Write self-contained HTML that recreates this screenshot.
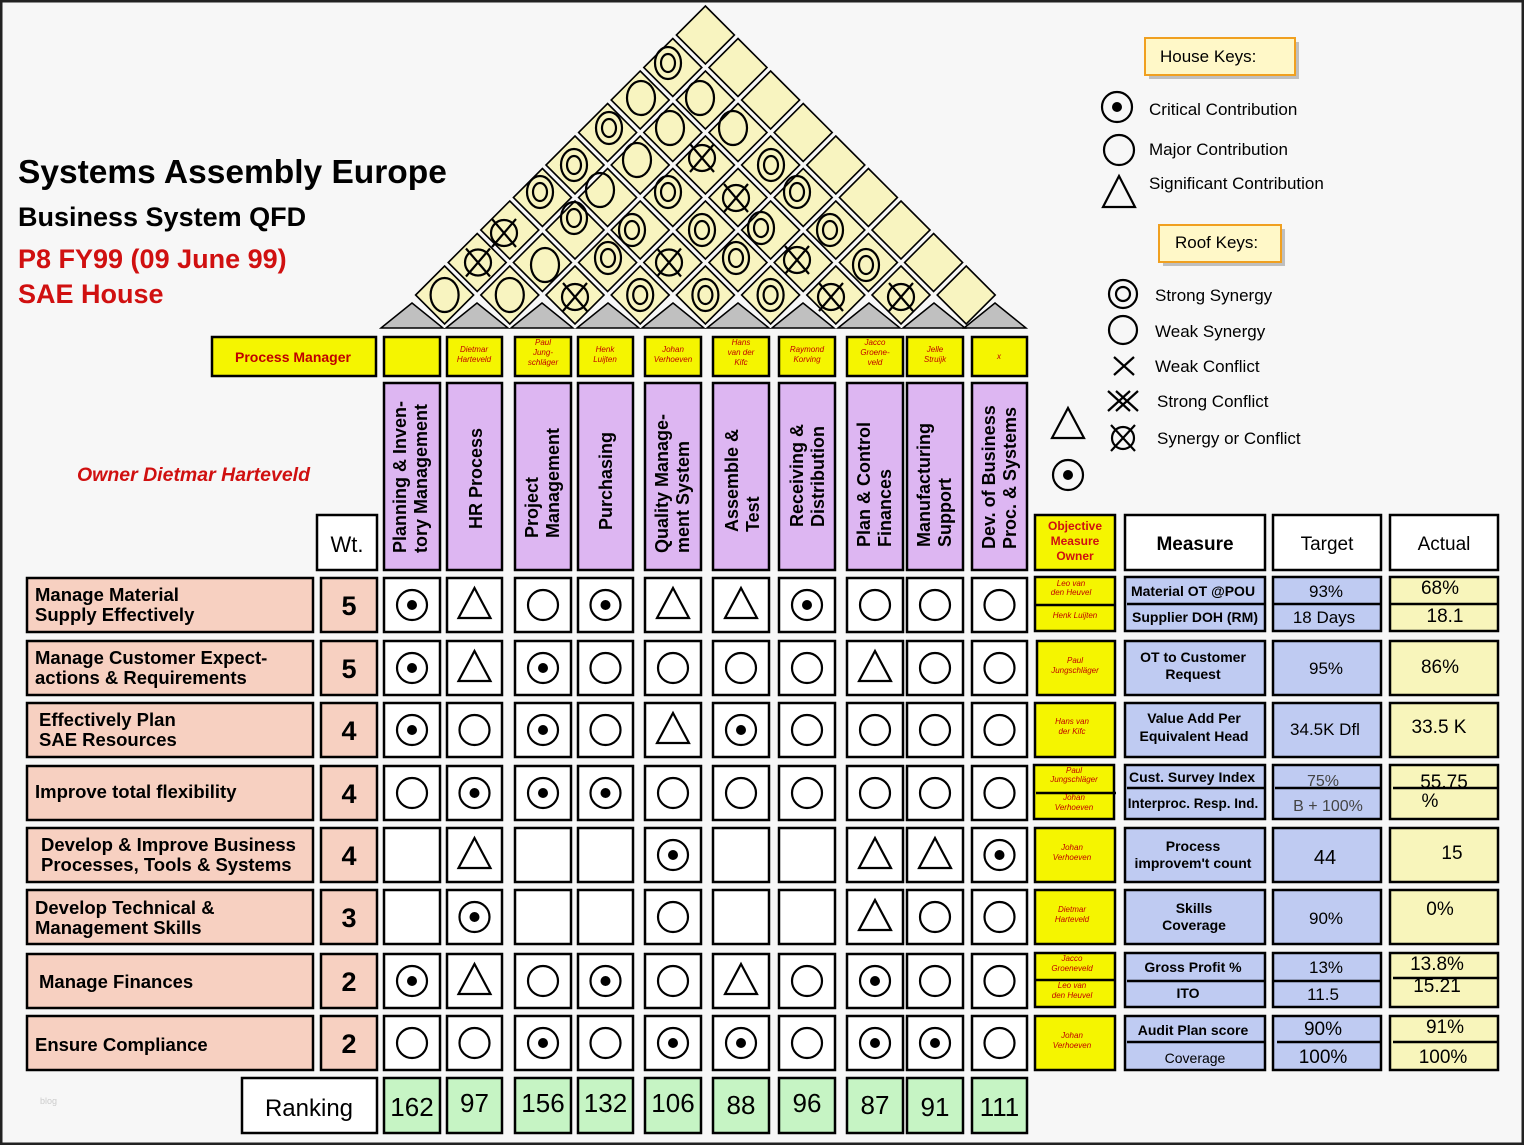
<!DOCTYPE html>
<html><head><meta charset="utf-8"><style>
html,body{margin:0;padding:0;background:#f7f7f7}
svg{display:block;font-family:"Liberation Sans",sans-serif}
.b{stroke:#000;stroke-width:2.5}
.w{fill:#fff}.y{fill:#f5f500}.p{fill:#ddb6f2}.s{fill:#f7d0c1}.g{fill:#c6f4c4}.m{fill:#bfcbf2}.a{fill:#f8f5bb}
.sy{fill:none;stroke:#000;stroke-width:2.2}
.n{font-size:8px;font-style:italic;fill:#c00000;text-anchor:middle}
.h{font-size:18px;font-weight:bold}
.rl{font-size:18.5px;font-weight:bold}
.wt{font-size:27px;font-weight:bold;text-anchor:middle}
.rk{font-size:26px;text-anchor:middle}
.me{font-size:14px;font-weight:bold;text-anchor:middle}
.tg{font-size:17px;text-anchor:middle}
.ac{font-size:19px;text-anchor:middle}
.k{font-size:17px}
</style></head><body>
<svg width="1524" height="1145" viewBox="0 0 1524 1145" xmlns="http://www.w3.org/2000/svg">
<defs>
<g id="dot"><circle r="15" class="sy"/><circle r="5" fill="#000"/></g>
<circle id="cir" r="15" class="sy"/>
<path id="tri" d="M0,-17 L16,13 L-16,13Z" class="sy"/>
<g id="rr" class="sy"><ellipse rx="13" ry="16"/><ellipse rx="7" ry="9"/></g>
<ellipse id="ro" rx="14" ry="17" class="sy"/>
<g id="rx" class="sy"><circle r="13"/><path d="M-12,-14 L12,14 M12,-14 L-12,14"/></g>
<path id="dia" d="M0,-29 L29,0 L0,29 L-29,0Z" fill="#f8f4c0" stroke="#000" stroke-width="1.6"/>
<path id="gt" d="M-31,25 L0,0 L31,25Z" fill="#c0c0c0" stroke="#000" stroke-width="1.5"/>
</defs>
<rect x="0" y="0" width="1524" height="1145" fill="#f7f7f7"/>
<rect x="1" y="1" width="1522" height="1143" fill="none" stroke="#222" stroke-width="3"/>

<text x="18" y="183" font-size="33.5" font-weight="bold">Systems Assembly Europe</text>
<text x="18" y="226" font-size="27" font-weight="bold">Business System QFD</text>
<text x="18" y="268" font-size="27" font-weight="bold" fill="#d01010">P8 FY99 (09 June 99)</text>
<text x="18" y="303" font-size="27" font-weight="bold" fill="#d01010">SAE House</text>
<text x="77" y="481" font-size="19.5" font-weight="bold" font-style="italic" fill="#d01010">Owner Dietmar Harteveld</text>

<g>
<use href="#dia" x="444.6" y="295"/><use href="#dia" x="509.8" y="295"/><use href="#dia" x="575" y="295"/><use href="#dia" x="640.2" y="295"/><use href="#dia" x="705.4" y="295"/><use href="#dia" x="770.6" y="295"/><use href="#dia" x="835.8" y="295"/><use href="#dia" x="901" y="295"/><use href="#dia" x="966.2" y="295"/>
<use href="#dia" x="477.2" y="262.5"/><use href="#dia" x="542.4" y="262.5"/><use href="#dia" x="607.6" y="262.5"/><use href="#dia" x="672.8" y="262.5"/><use href="#dia" x="738" y="262.5"/><use href="#dia" x="803.2" y="262.5"/><use href="#dia" x="868.4" y="262.5"/><use href="#dia" x="933.6" y="262.5"/>
<use href="#dia" x="509.8" y="230"/><use href="#dia" x="575" y="230"/><use href="#dia" x="640.2" y="230"/><use href="#dia" x="705.4" y="230"/><use href="#dia" x="770.6" y="230"/><use href="#dia" x="835.8" y="230"/><use href="#dia" x="901" y="230"/>
<use href="#dia" x="542.4" y="197.5"/><use href="#dia" x="607.6" y="197.5"/><use href="#dia" x="672.8" y="197.5"/><use href="#dia" x="738" y="197.5"/><use href="#dia" x="803.2" y="197.5"/><use href="#dia" x="868.4" y="197.5"/>
<use href="#dia" x="575" y="165"/><use href="#dia" x="640.2" y="165"/><use href="#dia" x="705.4" y="165"/><use href="#dia" x="770.6" y="165"/><use href="#dia" x="835.8" y="165"/>
<use href="#dia" x="607.6" y="132.5"/><use href="#dia" x="672.8" y="132.5"/><use href="#dia" x="738" y="132.5"/><use href="#dia" x="803.2" y="132.5"/>
<use href="#dia" x="640.2" y="100"/><use href="#dia" x="705.4" y="100"/><use href="#dia" x="770.6" y="100"/>
<use href="#dia" x="672.8" y="67.5"/><use href="#dia" x="738" y="67.5"/>
<use href="#dia" x="705.4" y="35"/>
</g>
<g>
<use href="#ro" x="444.6" y="295"/><use href="#ro" x="509.8" y="295"/><use href="#rx" x="575" y="297"/><use href="#rr" x="640.2" y="295"/><use href="#rr" x="705.4" y="295"/><use href="#rr" x="770.6" y="295"/><use href="#rx" x="831" y="297"/><use href="#rx" x="901" y="297"/>
<use href="#rx" x="478" y="262.5"/><use href="#ro" x="545" y="265"/><use href="#rr" x="608" y="258"/><use href="#rx" x="669" y="262.5"/><use href="#rr" x="736" y="258"/><use href="#rx" x="797" y="260"/><use href="#rr" x="866" y="265"/>
<use href="#rx" x="504" y="233"/><use href="#rr" x="574" y="218"/><use href="#rr" x="632" y="230"/><use href="#rr" x="702" y="230"/><use href="#rr" x="761" y="228"/><use href="#rr" x="830" y="230"/>
<use href="#rr" x="540" y="192"/><use href="#ro" x="600" y="190"/><use href="#rr" x="668" y="192"/><use href="#rx" x="736" y="198"/><use href="#rr" x="797" y="192"/>
<use href="#rr" x="574" y="165"/><use href="#ro" x="637" y="160"/><use href="#rx" x="702" y="158"/><use href="#rr" x="771" y="165"/>
<use href="#rr" x="609" y="128"/><use href="#ro" x="670" y="128"/><use href="#ro" x="733" y="128"/>
<use href="#ro" x="641" y="98"/><use href="#ro" x="700" y="98"/>
<use href="#rr" x="668" y="63"/>
</g>
<g>
<use href="#gt" x="412" y="303"/><use href="#gt" x="477" y="303"/><use href="#gt" x="542" y="303"/><use href="#gt" x="608" y="303"/><use href="#gt" x="673" y="303"/><use href="#gt" x="738" y="303"/><use href="#gt" x="803" y="303"/><use href="#gt" x="869" y="303"/><use href="#gt" x="934" y="303"/><use href="#gt" x="995" y="303"/>
</g>

<rect x="212" y="337" width="164" height="39" class="y b"/>
<text x="293" y="362" font-size="14" font-weight="bold" fill="#c00000" text-anchor="middle">Process Manager</text>
<g class="y b">
<rect x="384" y="337" width="56" height="39"/><rect x="447" y="337" width="55" height="39"/><rect x="515" y="337" width="56" height="39"/><rect x="578" y="337" width="55" height="39"/><rect x="645" y="337" width="56" height="39"/><rect x="713" y="337" width="56" height="39"/><rect x="779" y="337" width="56" height="39"/><rect x="847" y="337" width="56" height="39"/><rect x="907" y="337" width="56" height="39"/><rect x="972" y="337" width="55" height="39"/>
</g>
<g class="n">
<text x="474" y="352">Dietmar</text><text x="474" y="362">Harteveld</text>
<text x="543" y="345">Paul</text><text x="543" y="355">Jung-</text><text x="543" y="365">schläger</text>
<text x="605" y="352">Henk</text><text x="605" y="362">Luijten</text>
<text x="673" y="352">Johan</text><text x="673" y="362">Verhoeven</text>
<text x="741" y="345">Hans</text><text x="741" y="355">van der</text><text x="741" y="365">Kifc</text>
<text x="807" y="352">Raymond</text><text x="807" y="362">Korving</text>
<text x="875" y="345">Jacco</text><text x="875" y="355">Groene-</text><text x="875" y="365">veld</text>
<text x="935" y="352">Jelle</text><text x="935" y="362">Struijk</text>
<text x="999" y="359">x</text>
</g>

<g class="p b">
<rect x="384" y="383" width="56" height="187"/><rect x="447" y="383" width="55" height="187"/><rect x="515" y="383" width="56" height="187"/><rect x="578" y="383" width="55" height="187"/><rect x="645" y="383" width="56" height="187"/><rect x="713" y="383" width="56" height="187"/><rect x="779" y="383" width="56" height="187"/><rect x="847" y="383" width="56" height="187"/><rect x="907" y="383" width="56" height="187"/><rect x="972" y="383" width="55" height="187"/>
</g>
<g class="h">
<text transform="translate(406,553) rotate(-90)">Planning &amp; Inven-</text><text transform="translate(427,553) rotate(-90)">tory Management</text>
<text transform="translate(482,529) rotate(-90)">HR Process</text>
<text transform="translate(538,538) rotate(-90)">Project</text><text transform="translate(559,538) rotate(-90)">Management</text>
<text transform="translate(612,530) rotate(-90)">Purchasing</text>
<text transform="translate(668,553) rotate(-90)">Quality Manage-</text><text transform="translate(689,553) rotate(-90)">ment System</text>
<text transform="translate(738,532) rotate(-90)">Assemble &amp;</text><text transform="translate(759,532) rotate(-90)">Test</text>
<text transform="translate(803,527) rotate(-90)">Receiving &amp;</text><text transform="translate(824,527) rotate(-90)">Distribution</text>
<text transform="translate(870,547) rotate(-90)">Plan &amp; Control</text><text transform="translate(891,547) rotate(-90)">Finances</text>
<text transform="translate(930,547) rotate(-90)">Manufacturing</text><text transform="translate(951,547) rotate(-90)">Support</text>
<text transform="translate(995,549) rotate(-90)">Dev. of Business</text><text transform="translate(1016,549) rotate(-90)">Proc. &amp; Systems</text>
</g>

<rect x="317" y="515" width="60" height="55" class="w b"/>
<text x="347" y="552" font-size="22" text-anchor="middle">Wt.</text>

<rect x="1035" y="515" width="80" height="55" class="y b"/>
<g font-size="12" font-weight="bold" fill="#d01010" text-anchor="middle"><text x="1075" y="530">Objective</text><text x="1075" y="545">Measure</text><text x="1075" y="560">Owner</text></g>
<rect x="1125" y="515" width="140" height="55" class="w b"/><text x="1195" y="550" font-size="19" font-weight="bold" text-anchor="middle">Measure</text>
<rect x="1273" y="515" width="108" height="55" class="w b"/><text x="1327" y="550" font-size="19" text-anchor="middle">Target</text>
<rect x="1390" y="515" width="108" height="55" class="w b"/><text x="1444" y="550" font-size="19" text-anchor="middle">Actual</text>

<g class="s b">
<rect x="27" y="578" width="286" height="54"/><rect x="27" y="641" width="286" height="54"/><rect x="27" y="703" width="286" height="54"/><rect x="27" y="766" width="286" height="54"/><rect x="27" y="828" width="286" height="54"/><rect x="27" y="890" width="286" height="54"/><rect x="27" y="954" width="286" height="54"/><rect x="27" y="1016" width="286" height="54"/>
<rect x="321" y="578" width="56" height="54"/><rect x="321" y="641" width="56" height="54"/><rect x="321" y="703" width="56" height="54"/><rect x="321" y="766" width="56" height="54"/><rect x="321" y="828" width="56" height="54"/><rect x="321" y="890" width="56" height="54"/><rect x="321" y="954" width="56" height="54"/><rect x="321" y="1016" width="56" height="54"/>
</g>
<g class="rl">
<text x="35" y="601">Manage Material</text><text x="35" y="621">Supply Effectively</text>
<text x="35" y="664">Manage Customer Expect-</text><text x="35" y="684">actions &amp; Requirements</text>
<text x="39" y="726">Effectively Plan</text><text x="39" y="746">SAE Resources</text>
<text x="35" y="798">Improve total flexibility</text>
<text x="41" y="851">Develop &amp; Improve Business</text><text x="41" y="871">Processes, Tools &amp; Systems</text>
<text x="35" y="914">Develop Technical &amp;</text><text x="35" y="934">Management Skills</text>
<text x="39" y="988">Manage Finances</text>
<text x="35" y="1051">Ensure Compliance</text>
</g>
<g class="wt">
<text x="349" y="615">5</text><text x="349" y="678">5</text><text x="349" y="740">4</text><text x="349" y="803">4</text><text x="349" y="865">4</text><text x="349" y="927">3</text><text x="349" y="991">2</text><text x="349" y="1053">2</text>
</g>

<g class="w b">
<rect x="384" y="578" width="56" height="54"/><rect x="447" y="578" width="55" height="54"/><rect x="515" y="578" width="56" height="54"/><rect x="578" y="578" width="55" height="54"/><rect x="645" y="578" width="56" height="54"/><rect x="713" y="578" width="56" height="54"/><rect x="779" y="578" width="56" height="54"/><rect x="847" y="578" width="56" height="54"/><rect x="907" y="578" width="56" height="54"/><rect x="972" y="578" width="55" height="54"/>
<rect x="384" y="641" width="56" height="54"/><rect x="447" y="641" width="55" height="54"/><rect x="515" y="641" width="56" height="54"/><rect x="578" y="641" width="55" height="54"/><rect x="645" y="641" width="56" height="54"/><rect x="713" y="641" width="56" height="54"/><rect x="779" y="641" width="56" height="54"/><rect x="847" y="641" width="56" height="54"/><rect x="907" y="641" width="56" height="54"/><rect x="972" y="641" width="55" height="54"/>
<rect x="384" y="703" width="56" height="54"/><rect x="447" y="703" width="55" height="54"/><rect x="515" y="703" width="56" height="54"/><rect x="578" y="703" width="55" height="54"/><rect x="645" y="703" width="56" height="54"/><rect x="713" y="703" width="56" height="54"/><rect x="779" y="703" width="56" height="54"/><rect x="847" y="703" width="56" height="54"/><rect x="907" y="703" width="56" height="54"/><rect x="972" y="703" width="55" height="54"/>
<rect x="384" y="766" width="56" height="54"/><rect x="447" y="766" width="55" height="54"/><rect x="515" y="766" width="56" height="54"/><rect x="578" y="766" width="55" height="54"/><rect x="645" y="766" width="56" height="54"/><rect x="713" y="766" width="56" height="54"/><rect x="779" y="766" width="56" height="54"/><rect x="847" y="766" width="56" height="54"/><rect x="907" y="766" width="56" height="54"/><rect x="972" y="766" width="55" height="54"/>
<rect x="384" y="828" width="56" height="54"/><rect x="447" y="828" width="55" height="54"/><rect x="515" y="828" width="56" height="54"/><rect x="578" y="828" width="55" height="54"/><rect x="645" y="828" width="56" height="54"/><rect x="713" y="828" width="56" height="54"/><rect x="779" y="828" width="56" height="54"/><rect x="847" y="828" width="56" height="54"/><rect x="907" y="828" width="56" height="54"/><rect x="972" y="828" width="55" height="54"/>
<rect x="384" y="890" width="56" height="54"/><rect x="447" y="890" width="55" height="54"/><rect x="515" y="890" width="56" height="54"/><rect x="578" y="890" width="55" height="54"/><rect x="645" y="890" width="56" height="54"/><rect x="713" y="890" width="56" height="54"/><rect x="779" y="890" width="56" height="54"/><rect x="847" y="890" width="56" height="54"/><rect x="907" y="890" width="56" height="54"/><rect x="972" y="890" width="55" height="54"/>
<rect x="384" y="954" width="56" height="54"/><rect x="447" y="954" width="55" height="54"/><rect x="515" y="954" width="56" height="54"/><rect x="578" y="954" width="55" height="54"/><rect x="645" y="954" width="56" height="54"/><rect x="713" y="954" width="56" height="54"/><rect x="779" y="954" width="56" height="54"/><rect x="847" y="954" width="56" height="54"/><rect x="907" y="954" width="56" height="54"/><rect x="972" y="954" width="55" height="54"/>
<rect x="384" y="1016" width="56" height="54"/><rect x="447" y="1016" width="55" height="54"/><rect x="515" y="1016" width="56" height="54"/><rect x="578" y="1016" width="55" height="54"/><rect x="645" y="1016" width="56" height="54"/><rect x="713" y="1016" width="56" height="54"/><rect x="779" y="1016" width="56" height="54"/><rect x="847" y="1016" width="56" height="54"/><rect x="907" y="1016" width="56" height="54"/><rect x="972" y="1016" width="55" height="54"/>
</g>
<g>
<use href="#dot" x="412" y="605"/><use href="#tri" x="474.5" y="605"/><use href="#cir" x="543" y="605"/><use href="#dot" x="605.5" y="605"/><use href="#tri" x="673" y="605"/><use href="#tri" x="741" y="605"/><use href="#dot" x="807" y="605"/><use href="#cir" x="875" y="605"/><use href="#cir" x="935" y="605"/><use href="#cir" x="999.5" y="605"/>
<use href="#dot" x="412" y="668"/><use href="#tri" x="474.5" y="668"/><use href="#dot" x="543" y="668"/><use href="#cir" x="605.5" y="668"/><use href="#cir" x="673" y="668"/><use href="#cir" x="741" y="668"/><use href="#cir" x="807" y="668"/><use href="#tri" x="875" y="668"/><use href="#cir" x="935" y="668"/><use href="#cir" x="999.5" y="668"/>
<use href="#dot" x="412" y="730"/><use href="#cir" x="474.5" y="730"/><use href="#dot" x="543" y="730"/><use href="#cir" x="605.5" y="730"/><use href="#tri" x="673" y="730"/><use href="#dot" x="741" y="730"/><use href="#cir" x="807" y="730"/><use href="#cir" x="875" y="730"/><use href="#cir" x="935" y="730"/><use href="#cir" x="999.5" y="730"/>
<use href="#cir" x="412" y="793"/><use href="#dot" x="474.5" y="793"/><use href="#dot" x="543" y="793"/><use href="#dot" x="605.5" y="793"/><use href="#cir" x="673" y="793"/><use href="#cir" x="741" y="793"/><use href="#cir" x="807" y="793"/><use href="#cir" x="875" y="793"/><use href="#cir" x="935" y="793"/><use href="#cir" x="999.5" y="793"/>
<use href="#tri" x="474.5" y="855"/><use href="#dot" x="673" y="855"/><use href="#tri" x="875" y="855"/><use href="#tri" x="935" y="855"/><use href="#dot" x="999.5" y="855"/>
<use href="#dot" x="474.5" y="917"/><use href="#cir" x="673" y="917"/><use href="#tri" x="875" y="917"/><use href="#cir" x="935" y="917"/><use href="#cir" x="999.5" y="917"/>
<use href="#dot" x="412" y="981"/><use href="#tri" x="474.5" y="981"/><use href="#cir" x="543" y="981"/><use href="#dot" x="605.5" y="981"/><use href="#cir" x="673" y="981"/><use href="#tri" x="741" y="981"/><use href="#cir" x="807" y="981"/><use href="#dot" x="875" y="981"/><use href="#cir" x="935" y="981"/><use href="#cir" x="999.5" y="981"/>
<use href="#cir" x="412" y="1043"/><use href="#cir" x="474.5" y="1043"/><use href="#dot" x="543" y="1043"/><use href="#cir" x="605.5" y="1043"/><use href="#dot" x="673" y="1043"/><use href="#dot" x="741" y="1043"/><use href="#cir" x="807" y="1043"/><use href="#dot" x="875" y="1043"/><use href="#dot" x="935" y="1043"/><use href="#cir" x="999.5" y="1043"/>
</g>

<rect x="242" y="1078" width="135" height="55" class="w b"/>
<text x="309" y="1116" font-size="24" text-anchor="middle">Ranking</text>
<g class="g b">
<rect x="384" y="1078" width="56" height="55"/><rect x="447" y="1078" width="55" height="55"/><rect x="515" y="1078" width="56" height="55"/><rect x="578" y="1078" width="55" height="55"/><rect x="645" y="1078" width="56" height="55"/><rect x="713" y="1078" width="56" height="55"/><rect x="779" y="1078" width="56" height="55"/><rect x="847" y="1078" width="56" height="55"/><rect x="907" y="1078" width="56" height="55"/><rect x="972" y="1078" width="55" height="55"/>
</g>
<g class="rk">
<text x="412" y="1116">162</text><text x="474.5" y="1112">97</text><text x="543" y="1112">156</text><text x="605.5" y="1112">132</text><text x="673" y="1112">106</text><text x="741" y="1114">88</text><text x="807" y="1112">96</text><text x="875" y="1114">87</text><text x="935" y="1116">91</text><text x="999.5" y="1116">111</text>
</g>

<g class="y b">
<rect x="1035" y="577" width="80" height="54"/>
<rect x="1037" y="641" width="78" height="54"/>
<rect x="1035" y="703" width="80" height="54"/>
<rect x="1034" y="765" width="80" height="54"/>
<rect x="1035" y="828" width="80" height="54"/>
<rect x="1035" y="890" width="80" height="54"/>
<rect x="1035" y="953" width="80" height="54"/>
<rect x="1035" y="1016" width="80" height="54"/>
</g>
<g stroke="#000" stroke-width="2.5">
<line x1="1035" y1="605" x2="1115" y2="605"/><line x1="1036" y1="793" x2="1116" y2="793"/><line x1="1035" y1="980" x2="1115" y2="980"/>
</g>
<g class="n">
<text x="1071" y="586">Leo van</text><text x="1071" y="595">den Heuvel</text><text x="1075" y="618">Henk Luijten</text>
<text x="1075" y="663">Paul</text><text x="1075" y="673">Jungschläger</text>
<text x="1072" y="724">Hans van</text><text x="1072" y="734">der Kifc</text>
<text x="1074" y="773">Paul</text><text x="1074" y="782">Jungschläger</text><text x="1074" y="800">Johan</text><text x="1074" y="810">Verhoeven</text>
<text x="1072" y="850">Johan</text><text x="1072" y="860">Verhoeven</text>
<text x="1072" y="912">Dietmar</text><text x="1072" y="922">Harteveld</text>
<text x="1072" y="961">Jacco</text><text x="1072" y="971">Groeneveld</text><text x="1072" y="988">Leo van</text><text x="1072" y="998">den Heuvel</text>
<text x="1072" y="1038">Johan</text><text x="1072" y="1048">Verhoeven</text>
</g>

<g class="m b">
<rect x="1125" y="577" width="140" height="54"/><rect x="1125" y="641" width="140" height="54"/><rect x="1125" y="703" width="140" height="54"/><rect x="1125" y="765" width="140" height="54"/><rect x="1125" y="828" width="140" height="54"/><rect x="1125" y="890" width="140" height="54"/><rect x="1125" y="953" width="140" height="54"/><rect x="1125" y="1016" width="140" height="54"/>
<rect x="1273" y="577" width="108" height="54"/><rect x="1273" y="641" width="108" height="54"/><rect x="1273" y="703" width="108" height="54"/><rect x="1273" y="765" width="108" height="54"/><rect x="1273" y="828" width="108" height="54"/><rect x="1273" y="890" width="108" height="54"/><rect x="1273" y="953" width="108" height="54"/><rect x="1273" y="1016" width="108" height="54"/>
</g>
<g class="a b">
<rect x="1390" y="577" width="108" height="54"/><rect x="1390" y="641" width="108" height="54"/><rect x="1390" y="703" width="108" height="54"/><rect x="1390" y="765" width="108" height="54"/><rect x="1390" y="828" width="108" height="54"/><rect x="1390" y="890" width="108" height="54"/><rect x="1390" y="953" width="108" height="54"/><rect x="1390" y="1016" width="108" height="54"/>
</g>
<g stroke="#000" stroke-width="2.5">
<line x1="1127" y1="604" x2="1265" y2="604"/><line x1="1273" y1="604" x2="1381" y2="604"/><line x1="1390" y1="604" x2="1498" y2="604"/>
<line x1="1127" y1="788" x2="1265" y2="788"/><line x1="1275" y1="788" x2="1381" y2="788"/><line x1="1393" y1="788" x2="1498" y2="788"/>
<line x1="1127" y1="981" x2="1265" y2="981"/><line x1="1273" y1="981" x2="1381" y2="981"/><line x1="1393" y1="978" x2="1498" y2="978"/>
<line x1="1127" y1="1042" x2="1265" y2="1042"/><line x1="1277" y1="1042" x2="1381" y2="1042"/><line x1="1393" y1="1042" x2="1498" y2="1042"/>
</g>
<g class="me">
<text x="1193" y="596">Material OT @POU</text><text x="1195" y="622">Supplier DOH (RM)</text>
<text x="1193" y="662">OT to Customer</text><text x="1193" y="679">Request</text>
<text x="1194" y="723">Value Add Per</text><text x="1194" y="741">Equivalent Head</text>
<text x="1192" y="782">Cust. Survey Index</text><text x="1193" y="808" font-size="13.5">Interproc. Resp. Ind.</text>
<text x="1193" y="851">Process</text><text x="1193" y="868">improvem't count</text>
<text x="1194" y="913">Skills</text><text x="1194" y="930">Coverage</text>
<text x="1193" y="972">Gross Profit %</text><text x="1188" y="998">ITO</text>
<text x="1193" y="1035">Audit Plan score</text><text x="1195" y="1063" font-weight="normal">Coverage</text>
</g>
<g class="tg">
<text x="1326" y="597">93%</text><text x="1324" y="623">18 Days</text>
<text x="1326" y="674">95%</text>
<text x="1325" y="735">34.5K Dfl</text>
<text x="1323" y="786" fill="#444" font-size="16">75%</text><text x="1328" y="811" fill="#444" font-size="16">B + 100%</text>
<text x="1325" y="864" font-size="20">44</text>
<text x="1326" y="924">90%</text>
<text x="1326" y="973">13%</text><text x="1323" y="1000">11.5</text>
<text x="1323" y="1035" font-size="19">90%</text><text x="1323" y="1063" font-size="19">100%</text>
</g>
<g class="ac">
<text x="1440" y="594">68%</text><text x="1445" y="622">18.1</text>
<text x="1440" y="673">86%</text>
<text x="1439" y="733">33.5 K</text>
<text x="1444" y="788">55.75</text><text x="1430" y="807">%</text>
<text x="1452" y="859">15</text>
<text x="1440" y="915">0%</text>
<text x="1437" y="970">13.8%</text><text x="1437" y="992">15.21</text>
<text x="1445" y="1033">91%</text><text x="1443" y="1063">100%</text>
</g>

<rect x="1149" y="42" width="150" height="37" fill="#555" opacity="0.35"/>
<rect x="1145" y="38" width="150" height="37" fill="#fff8c8" stroke="#f0a020" stroke-width="2"/>
<text x="1160" y="62" class="k">House Keys:</text>
<use href="#dot" x="1117" y="107"/><text x="1149" y="115" class="k">Critical Contribution</text>
<use href="#cir" x="1119" y="150"/><text x="1149" y="155" class="k">Major Contribution</text>
<path d="M1119,176 L1135,207 L1103,207Z" class="sy"/><text x="1149" y="189" class="k">Significant Contribution</text>

<rect x="1163" y="229" width="122" height="37" fill="#555" opacity="0.35"/>
<rect x="1159" y="225" width="122" height="37" fill="#fff8c8" stroke="#f0a020" stroke-width="2"/>
<text x="1175" y="248" class="k">Roof Keys:</text>
<g class="sy"><circle cx="1123" cy="294" r="14"/><circle cx="1123" cy="294" r="7"/></g><text x="1155" y="301" class="k">Strong Synergy</text>
<circle cx="1123" cy="330" r="14" class="sy"/><text x="1155" y="337" class="k">Weak Synergy</text>
<path d="M1114,357 L1134,375 M1134,357 L1114,375" class="sy"/><text x="1155" y="372" class="k">Weak Conflict</text>
<path d="M1108,391 L1130,411 M1130,391 L1108,411 M1116,391 L1138,411 M1138,391 L1116,411" class="sy"/><text x="1157" y="407" class="k">Strong Conflict</text>
<g class="sy"><circle cx="1123" cy="438" r="11"/><path d="M1111,425 L1135,451 M1135,425 L1111,451"/></g><text x="1157" y="444" class="k">Synergy or Conflict</text>

<path d="M1068,408 L1084,438 L1052,438Z" class="sy"/>
<use href="#dot" x="1068" y="475"/>
<text x="40" y="1104" font-size="9" fill="#ccc">blog</text>
</svg>
</body></html>
